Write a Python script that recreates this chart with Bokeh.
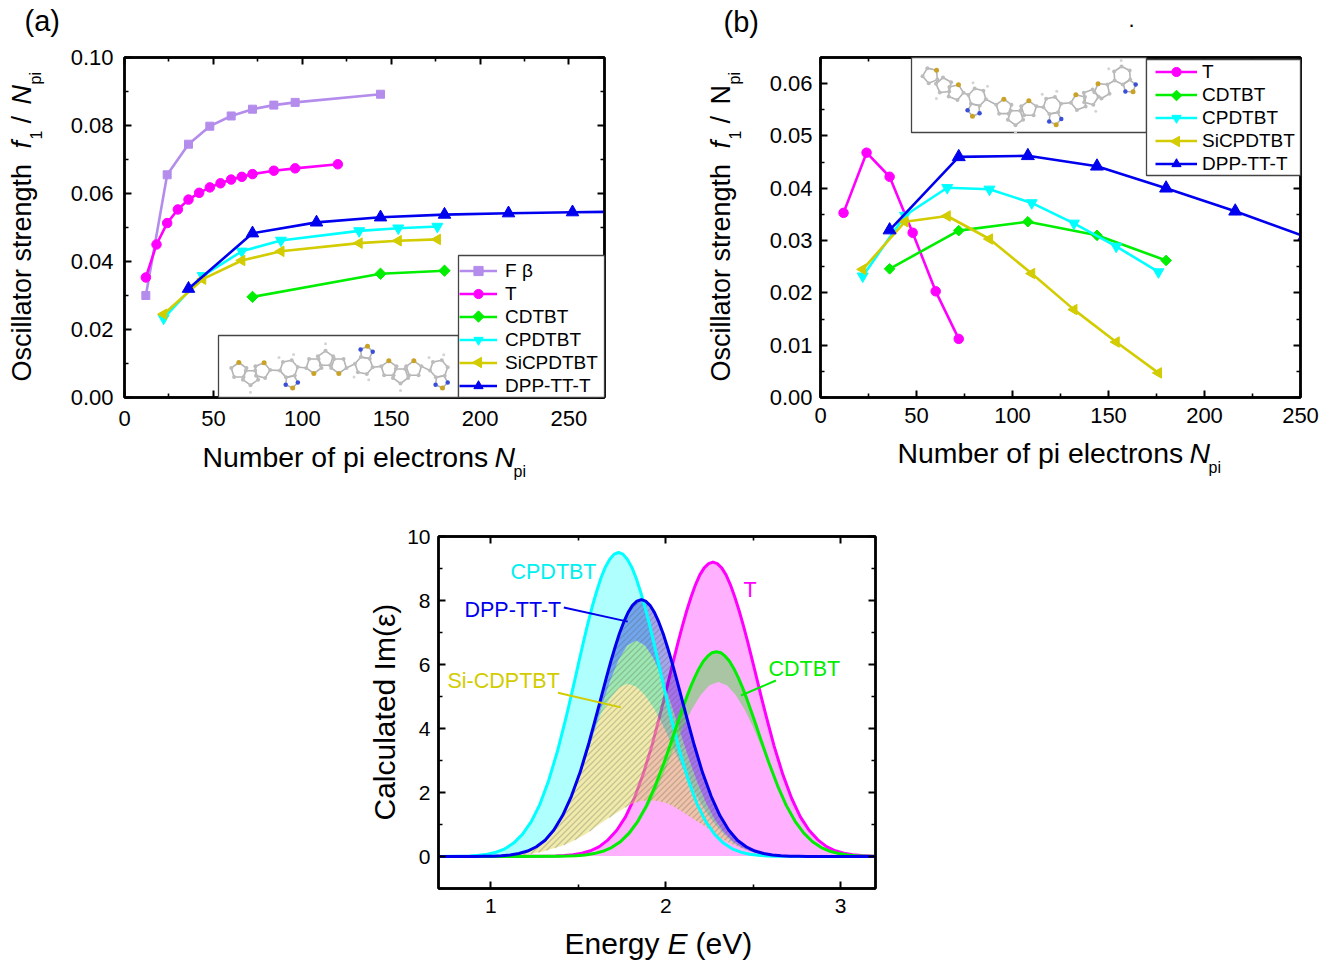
import math
from bokeh.embed import file_html
from bokeh.resources import INLINE
from bokeh.plotting import figure
from bokeh.layouts import column, row
from bokeh.models import (BoxAnnotation, CustomLabelingPolicy, FixedTicker, Label, Legend, LegendItem,
                          LinearAxis, NumeralTickFormatter)
from bokeh.core.properties import value

FONT = "Liberation Sans"
C_FB, C_T, C_CD, C_CP, C_SI, C_DPP = "#b48cec", "#ff00ff", "#00ee00", "#00ffff", "#d2cc00", "#0000ee"

# ---------- panel (a) ----------
a_fb_x = [12, 24, 36, 48, 60, 72, 84, 96, 144]
a_fb_y = [.0300, .0655, .0745, .0798, .0828, .0848, .0860, .0868, .0892]
a_t_x = [12, 18, 24, 30, 36, 42, 48, 54, 60, 66, 72, 84, 96, 120]
a_t_y = [.0353, .0450, .0513, .0553, .0582, .0602, .0618, .0630, .0641, .0649, .0657, .0667, .0674, .0686]
a_cd_x = [72, 144, 180]
a_cd_y = [.0296, .0364, .0373]
a_cp_x = [22, 44, 66, 88, 132, 154, 176]
a_cp_y = [.0233, .0358, .0430, .0462, .0490, .0498, .0503]
a_si_x = [22, 44, 66, 88, 132, 154, 176]
a_si_y = [.0245, .0348, .0403, .0430, .0454, .0461, .0465]
a_dpp_x = [36, 72, 108, 144, 180, 216, 252, 288]
a_dpp_y = [.0320, .0483, .0515, .0530, .0538, .0542, .0545, .0547]

# ---------- panel (b) ----------
b_t_x = [12, 24, 36, 48, 60, 72]
b_t_y = [.0353, .0468, .0422, .0315, .0203, .0112]
b_cd_x = [36, 72, 108, 144, 180]
b_cd_y = [.0246, .0319, .0336, .0310, .0262]
b_cp_x = [22, 44, 66, 88, 110, 132, 154, 176]
b_cp_y = [.0232, .0348, .0401, .0398, .0372, .0333, .0289, .0240]
b_si_x = [22, 44, 66, 88, 110, 132, 154, 176]
b_si_y = [.0245, .0336, .0347, .0303, .0237, .0168, .0106, .0047]
b_dpp_x = [36, 72, 108, 144, 180, 216, 252]
b_dpp_y = [.0320, .0460, .0462, .0442, .0400, .0356, .0308]

# ---------- panel (c): curves read at 0.05 eV steps, 0.025 eV near each of the main peaks ----------
c_cp_start, c_cp = 0.83, [.009, .018, .037, .072, .135, .24, .42, .69, 1.08, 1.63, 2.37, 3.28,
                          4.35, 4.93, 5.52, 6.13, 6.72, 7.29, 7.82, 8.29, 8.71, 9.05, 9.29, 9.45, 9.5,
                          9.45, 9.29, 9.05, 8.71, 8.29, 7.82, 7.29, 6.72, 6.13, 5.52, 4.93, 4.35,
                          3.28, 2.37, 1.63, 1.08, .69, .42, .24, .135, .072, .037, .018, .009]
c_dpp_start, c_dpp = 0.91, [.002, .005, .011, .024, .048, .093, .17, .305, .51, .83, 1.28, 1.88, 2.63,
                            3.54, 4.04, 4.55, 5.07, 5.58, 6.08, 6.54, 6.97, 7.33, 7.63, 7.85, 7.98, 8.03,
                            7.98, 7.85, 7.63, 7.33, 6.97, 6.54, 6.08, 5.58, 5.07, 4.55, 4.04, 3.54,
                            2.63, 1.88, 1.28, .83, .51, .305, .17, .093, .048, .024, .011, .005, .002]
c_t_start, c_t = 1.37, [.014, .028, .055, .10, .18, .31, .52, .82, 1.24, 1.82, 2.56, 3.45,
                        4.48, 5.02, 5.58, 6.14, 6.68, 7.20, 7.68, 8.11, 8.49, 8.80, 9.02, 9.15, 9.2,
                        9.15, 9.02, 8.80, 8.49, 8.11, 7.68, 7.20, 6.68, 6.14, 5.58, 5.02, 4.48,
                        3.45, 2.56, 1.82, 1.24, .82, .52, .31, .18, .10, .055, .028, .014]
c_cd_start, c_cd = 1.39, [.006, .012, .025, .049, .091, .163, .28, .46, .73, 1.10, 1.59, 2.21,
                          2.93, 3.32, 3.72, 4.13, 4.52, 4.91, 5.27, 5.59, 5.87, 6.10, 6.26, 6.37, 6.4,
                          6.37, 6.26, 6.10, 5.87, 5.59, 5.27, 4.91, 4.52, 4.13, 3.72, 3.32, 2.93,
                          2.21, 1.59, 1.10, .73, .46, .28, .163, .091, .049, .025, .012, .006]
c_mid_start, c_mid = 1.03, [.014, .03, .063, .12, .22, .38, .62, .98, 1.47, 2.10, 2.86, 3.72, 4.61, 5.45, 6.14, 6.59, 6.75,
                            6.60, 6.19, 5.56, 4.77, 3.92, 3.09, 2.33, 1.68, 1.16, .77, .49, .30, .17, .096, .051, .026, .013, .006]
c_si_start, c_si = 1.13, [.05, .10, .20, .36, .62, .98, 1.45, 2.05, 3.0, 3.75, 4.45, 4.93, 5.27, 5.4,
                          5.31, 5.05, 4.65, 4.14, 3.56, 2.96, 2.39, 1.86, 1.40, 1.02, .72, .45, .28, .18, .11, .06, .03]
c_low_start, c_low = 1.50, [.024, .047, .087, .155, .27, .44, .70, 1.08, 1.55, 2.10, 2.75, 3.40, 4.05, 4.60, 5.05, 5.35, 5.45,
                            5.35, 5.05, 4.60, 4.05, 3.40, 2.75, 2.10, 1.55, 1.08, .70, .44, .27, .155, .087, .047, .024]
c_hump_start, c_hump = 1.15, [.02, .05, .10, .16, .24, .32, .43, .57, .73, .93, 1.12, 1.30, 1.47, 1.63, 1.73, 1.76, 1.74,
                              1.68, 1.55, 1.38, 1.2, 1.03, .85, .62, .46, .34, .22, .14, .08, .04, .02, 0]


def grid(start, vals):
    return [round(start + 0.05 * k, 3) for k in range(len(vals))]


def fine_grid(start, vals):
    tail = (len(vals) - 25) // 2
    left = [start + 0.05 * k for k in range(tail)]
    first = start + 0.05 * tail
    mid = [first + 0.025 * k for k in range(25)]
    right = [first + 0.6 + 0.05 * (k + 1) for k in range(tail)]
    return [round(e, 3) for e in left + mid + right]


def tick_style(ax, size, standoff):
    ax.axis_line_width = 2.4
    ax.axis_line_color = "black"
    ax.major_tick_line_width = 2
    ax.minor_tick_line_width = 1.6
    ax.major_tick_in = 7
    ax.major_tick_out = 0
    ax.minor_tick_in = 4
    ax.minor_tick_out = 0
    ax.major_label_text_font = FONT
    ax.major_label_text_font_size = f"{size}px"
    ax.major_label_text_color = "black"
    ax.major_label_standoff = standoff


def base_fig(w, h, left, right, top, bottom, xr, yr, xt, xm, yt, ym, size, xoff, yoff, yfmt=None):
    p = figure(width=w, height=h, x_range=xr, y_range=yr, toolbar_location=None,
               output_backend="svg", min_border_left=left, min_border_right=right,
               min_border_top=top, min_border_bottom=bottom)
    p.grid.visible = False
    p.outline_line_color = "black"
    p.outline_line_width = 2.4
    p.background_fill_color = "white"
    p.xaxis.ticker = FixedTicker(ticks=xt, minor_ticks=xm)
    p.yaxis.ticker = FixedTicker(ticks=yt, minor_ticks=ym)
    if yfmt:
        p.yaxis.formatter = NumeralTickFormatter(format=yfmt)
    tick_style(p.xaxis[0], size, xoff)
    tick_style(p.yaxis[0], size, yoff)
    top_ax = LinearAxis(ticker=FixedTicker(ticks=xt, minor_ticks=xm))
    right_ax = LinearAxis(ticker=FixedTicker(ticks=yt, minor_ticks=ym))
    for ax in (top_ax, right_ax):
        tick_style(ax, size, 0)
        ax.major_label_text_font_size = "1px"
        ax.major_label_policy = CustomLabelingPolicy(code="for (const i of Array.from(indices)) { indices.unset(i); } return indices;")
    p.add_layout(top_ax, "above")
    p.add_layout(right_ax, "right")
    return p


# transparent sheet over the whole page: it carries the texts that lie outside the plot frames
sheet = figure(width=1320, height=960, x_range=(0, 1320), y_range=(960, 0), toolbar_location=None,
               output_backend="svg", min_border=0, x_axis_type=None, y_axis_type=None,
               background_fill_color=None, border_fill_color=None, outline_line_color=None,
               styles={"position": "absolute", "top": "0px", "left": "0px"})
sheet.grid.visible = False


def label(px, py, text, size, color="black", style="normal", angle=0):
    sheet.add_layout(Label(x=px, y=py, text=text, text_font=FONT, text_font_size=f"{size}px",
                           text_color=color, text_font_style=style, angle=angle, angle_units="deg",
                           text_align="left", text_baseline="alphabetic"))


class Px:
    """converts page pixels to the data coordinates of one panel"""
    def __init__(self, p, x0, x1, y0, y1):
        self.p, self.x0, self.x1, self.y0, self.y1 = p, x0, x1, y0, y1
        self.xs = (p.x_range.end - p.x_range.start) / (x1 - x0)
        self.ys = (p.y_range.end - p.y_range.start) / (y0 - y1)

    def x(self, px):
        return self.p.x_range.start + (px - self.x0) * self.xs

    def y(self, py):
        return self.p.y_range.start + (self.y0 - py) * self.ys

    def box(self, l, r, t, b):
        self.p.add_layout(BoxAnnotation(left=self.x(l), right=self.x(r), top=self.y(t), bottom=self.y(b),
                                        fill_color="white", fill_alpha=1, line_color="#444444", line_alpha=1, line_width=1.3))

    def key(self, px, py, color, marker, size, angle):
        self.p.scatter([self.x(px)], [self.y(py)], marker=marker, size=size, fill_color=color, line_color=color,
                       angle=angle, level="overlay")


def series(p, x, y, color, marker, size, angle=0.0):
    ln = p.line(x, y, line_color=color, line_width=2.6)
    sc = p.scatter(x, y, marker=marker, size=size, fill_color=color, line_color=color, angle=angle)
    return [ln, sc]


def add_legend(p, items, x, y, glyph_w, standoff):
    leg = Legend(items=[LegendItem(label=value(n), renderers=r) for n, r in items], location=(x, y),
                 glyph_width=glyph_w, glyph_height=23, label_height=23, label_width=10, spacing=0, padding=0,
                 margin=0, label_standoff=standoff, border_line_color=None, background_fill_alpha=0,
                 label_text_font=FONT, label_text_font_size="19px", label_text_color="black")
    p.add_layout(leg)


def molecule(t, chain, scale_from, level="overlay"):
    """schematic of the oligomer, built ring by ring; chain holds ring kind, centre and heteroatom spot"""
    ox, oy = scale_from
    R, r, q = 9, 8, 6.5
    rings, bonds, carbon, sulfur, nitrogen, hydrogen = [], [], [], [], [], []

    def poly(cx, cy, rad, n, ang):
        return [(cx + rad * math.cos(ang + 2 * math.pi * k / n), cy + rad * math.sin(ang + 2 * math.pi * k / n)) for k in range(n)]

    for kind, zx, zy, hx, hy in chain:
        cx, cy = ox + zx / 3, oy + zy / 3
        a = math.atan2(hy - zy, hx - zx)
        if kind == "h":
            v = poly(cx, cy, R, 6, a + math.pi / 6)
            carbon += v
            hydrogen += [(cx + (R + 6) * math.cos(a + math.pi + s), cy + (R + 6) * math.sin(a + math.pi + s)) for s in (-.52, .52)]
            d = R * .866 + q * .809
            tx, ty = cx + d * math.cos(a), cy + d * math.sin(a)
            w = poly(tx, ty, q, 5, a)
            sulfur.append(w[0])
            nitrogen += [w[1], w[4]]
            bonds.append(w + [w[0]])
        else:
            v = poly(cx, cy, r, 5, a)
            if kind == "t":
                sulfur.append(v[0])
                carbon += v[1:]
            else:
                carbon += v
                hydrogen.append((cx + (r + 7) * math.cos(a), cy + (r + 7) * math.sin(a)))
        bonds.append(v + [v[0]])
        rings.append(v)
    for u, v in zip(rings[:-1], rings[1:]):
        pair = min(((a, b) for a in u for b in v), key=lambda ab: math.dist(*ab))
        bonds.append(list(pair))
    p = t.p
    p.multi_line([[t.x(a[0]) for a in b] for b in bonds], [[t.y(a[1]) for a in b] for b in bonds],
                 line_color="#b4b4b4", line_width=1.6, level=level)
    for pts, col, sz in ((hydrogen, "#d4d4d4", 3), (carbon, "#bcbcbc", 4), (nitrogen, "#3a4fd8", 4.5), (sulfur, "#c9a227", 5)):
        p.scatter([t.x(a[0]) for a in pts], [t.y(a[1]) for a in pts], size=sz, fill_color=col, line_color=None, level=level)


chain_a = [("t", 85, 120, 85, 97), ("p", 120, 140, 120, 170), ("t", 155, 120, 160, 100), ("h", 235, 115, 248, 180),
           ("t", 310, 105, 310, 127), ("p", 345, 85, 345, 50), ("t", 385, 105, 385, 125), ("h", 460, 105, 472, 42),
           ("t", 535, 115, 535, 95), ("p", 570, 135, 570, 170), ("t", 610, 115, 610, 97), ("h", 685, 115, 697, 178)]
chain_b = [("t", 75, 60, 98, 40), ("p", 115, 90, 95, 125), ("t", 150, 110, 160, 85), ("h", 215, 125, 197, 198),
           ("t", 295, 155, 295, 130), ("p", 330, 185, 330, 210), ("t", 370, 160, 370, 135), ("h", 440, 150, 455, 222),
           ("t", 520, 140, 510, 115), ("p", 555, 125, 570, 165), ("t", 590, 105, 578, 85), ("h", 650, 60, 690, 120)]

# ---------- figure (a) ----------
xt = [0, 50, 100, 150, 200, 250]
pa = base_fig(700, 490, 124, 96, 57, 93, (0, 270), (0, 0.10), xt, list(range(25, 270, 50)),
              [0, .02, .04, .06, .08, .10], [.01, .03, .05, .07, .09], 22, 13, 11, "0.00")
ta = Px(pa, 124, 604, 397, 57)
fb = series(pa, a_fb_x, a_fb_y, C_FB, "square", 8)
t_a = series(pa, a_t_x, a_t_y, C_T, "circle", 9.5)
cd_a = series(pa, a_cd_x, a_cd_y, C_CD, "square", 8, math.pi / 4)
cp_a = series(pa, a_cp_x, a_cp_y, C_CP, "inverted_triangle", 11)
si_a = series(pa, a_si_x, a_si_y, C_SI, "triangle", 10.5, math.pi / 2)
dpp_a = series(pa, a_dpp_x, a_dpp_y, C_DPP, "triangle", 12.5)
leg_a = [("F β", fb), ("T", t_a), ("CDTBT", cd_a[:1]), ("CPDTBT", cp_a), ("SiCPDTBT", si_a[:1]), ("DPP-TT-T", dpp_a)]
ta.box(218, 458, 335, 397)
ta.box(458, 604, 255, 397)
add_legend(pa, leg_a, 335, 0, 38, 8)
ta.key(478, 316, C_CD, "square", 8, math.pi / 4)
ta.key(478, 362, C_SI, "triangle", 10.5, math.pi / 2)
molecule(ta, chain_a, (210, 330))
label(24, 20, "(a)", 29)
label(21, 381, "Oscillator strength", 27, angle=90)
label(21, 148, "f", 27, style="italic", angle=90)
label(35, 139, "1", 16, angle=90)
label(21, 123, "/", 27, angle=90)
label(21, 104, "N", 27, style="italic", angle=90)
label(35, 84, "pi", 16, angle=90)
label(202, 456, "Number of pi electrons", 28.4)
label(494, 456, "N", 28.4, style="italic")
label(513, 471, "pi", 16)

# ---------- figure (b) ----------
pb = base_fig(620, 490, 120, 20, 57, 93, (0, 250), (0, 0.065), xt, list(range(25, 250, 50)),
              [0, .01, .02, .03, .04, .05, .06], [.005, .015, .025, .035, .045, .055, .065], 22, 10, 8, "0.00")
tb = Px(pb, 820, 1300, 397, 57)
t_b = series(pb, b_t_x, b_t_y, C_T, "circle", 9.5)
cd_b = series(pb, b_cd_x, b_cd_y, C_CD, "square", 7.5, math.pi / 4)
cp_b = series(pb, b_cp_x, b_cp_y, C_CP, "inverted_triangle", 11)
si_b = series(pb, b_si_x, b_si_y, C_SI, "triangle", 10.5, math.pi / 2)
dpp_b = series(pb, b_dpp_x, b_dpp_y, C_DPP, "triangle", 13)
leg_b = [("T", t_b), ("CDTBT", cd_b[:1]), ("CPDTBT", cp_b), ("SiCPDTBT", si_b[:1]), ("DPP-TT-T", dpp_b)]
tb.box(911, 1146, 57, 132)
tb.box(1146, 1300, 59, 175)
add_legend(pb, leg_b, 335, 222, 42, 5)
tb.key(1176, 95, C_CD, "square", 7.5, math.pi / 4)
tb.key(1176, 141, C_SI, "triangle", 10.5, math.pi / 2)
molecule(tb, chain_b, (905, 55))
label(723, 21, "(b)", 29)
label(1128, 19, ".", 22)
label(720, 381, "Oscillator strength", 27, angle=90)
label(720, 148, "f", 27, style="italic", angle=90)
label(734, 139, "1", 16, angle=90)
label(720, 123, "/", 27, angle=90)
label(720, 104, "N", 27, angle=90)
label(734, 84, "pi", 16, angle=90)
label(897, 452, "Number of pi electrons", 28.4)
label(1189, 452, "N", 28.4, style="italic")
label(1208, 467, "pi", 16)

# ---------- figure (c) ----------
pc = base_fig(900, 470, 438, 25, 46, 72, (0.7, 3.2), (-1, 10), [1, 2, 3], [1.5, 2.5],
              [0, 2, 4, 6, 8, 10], [-1, 1, 3, 5, 7, 9], 21, 10, 8)
tc = Px(pc, 438, 875, 888, 536)

cp_x, dpp_x, t_x, cd_x = fine_grid(c_cp_start, c_cp), fine_grid(c_dpp_start, c_dpp), fine_grid(c_t_start, c_t), fine_grid(c_cd_start, c_cd)
mid_x, si_x, low_x, hump_x = grid(c_mid_start, c_mid), grid(c_si_start, c_si), grid(c_low_start, c_low), grid(c_hump_start, c_hump)


def band(xa, ya, xb, yb, color, alpha):
    pc.patch(list(xa) + list(xb)[::-1], list(ya) + list(yb)[::-1], fill_color=color, fill_alpha=alpha, line_color=None)


def diagonal_hatch(xs, ys, pitch):
    """slanted stripes clipped to a closed outline; returns the stripes in data coordinates"""
    sx = [490 + 175 * (e - 1) for e in xs]
    sy = [856 - 32 * v for v in ys]
    n = len(sx)
    s = [a + b for a, b in zip(sx, sy)]
    out_x, out_y = [], []
    c = min(s) + pitch / 2
    while c < max(s):
        hits = []
        for i in range(n):
            j = (i + 1) % n
            if (s[i] - c) * (s[j] - c) < 0:
                f = (c - s[i]) / (s[j] - s[i])
                hits.append(sx[i] + f * (sx[j] - sx[i]))
        hits.sort()
        for a, b in zip(hits[0::2], hits[1::2]):
            out_x.append([(a - 490) / 175 + 1, (b - 490) / 175 + 1])
            out_y.append([(856 - (c - a)) / 32, (856 - (c - b)) / 32])
        c += pitch
    return out_x, out_y


pc.patch(t_x, c_t, fill_color="#ffb0ff", line_color=None)
pc.line([0.7] + t_x + [3.2], [0] + c_t + [0], line_color=C_T, line_width=3, line_join="round")
cut_cp = sum(1 for e in cp_x if e <= 1.98)
cut_mid = sum(1 for e in mid_x if e <= 1.98)
band(cp_x[:cut_cp], c_cp[:cut_cp], mid_x[:cut_mid], c_mid[:cut_mid], "#b0ffff", 1)
band(si_x, c_si, hump_x, c_hump, "#e1d755", 0.5)
band(mid_x, c_mid, si_x, c_si, "#3cd264", 0.5)
band(dpp_x, c_dpp, mid_x, c_mid, "#0000c8", 0.35)
band(cd_x, c_cd, low_x, c_low, "#64d75a", 0.55)
hx, hy = diagonal_hatch(dpp_x + hump_x[::-1], c_dpp + c_hump[::-1], 6)
pc.multi_line(hx, hy, line_color="#555555", line_alpha=0.28, line_width=1.3)
pc.line([0.7] + cp_x + [3.2], [0] + c_cp + [0], line_color=C_CP, line_width=3, line_join="round")
pc.line([0.7] + cd_x + [3.2], [0] + c_cd + [0], line_color=C_CD, line_width=3, line_join="round")
pc.line([0.7] + dpp_x + [3.2], [0] + c_dpp + [0], line_color=C_DPP, line_width=3, line_join="round")

pc.line([1.417, 1.783], [7.78, 7.34], line_color=C_DPP, line_width=2)
pc.line([1.383, 1.743], [5.12, 4.66], line_color=C_SI, line_width=2)
pc.line([2.63, 2.43], [5.50, 5.03], line_color=C_CD, line_width=2)

label(510, 571, "CPDTBT", 21.5, color="#00f0f0")
label(743, 589, "T", 21.5, color=C_T)
label(464, 609, "DPP-TT-T", 21.5, color=C_DPP)
label(447, 680, "Si-CDPTBT", 21.5, color=C_SI)
label(768, 668, "CDTBT", 21.5, color=C_CD)
label(384, 820, "Calculated Im(ε)", 30, angle=90)
label(564, 943, "Energy", 30)
label(667, 943, "E", 30, style="italic")
label(695, 943, "(eV)", 30)

page = column(row(pa, pb, spacing=0), pc, spacing=0)
open("out.html", "w").write(file_html([page, sheet], INLINE))
